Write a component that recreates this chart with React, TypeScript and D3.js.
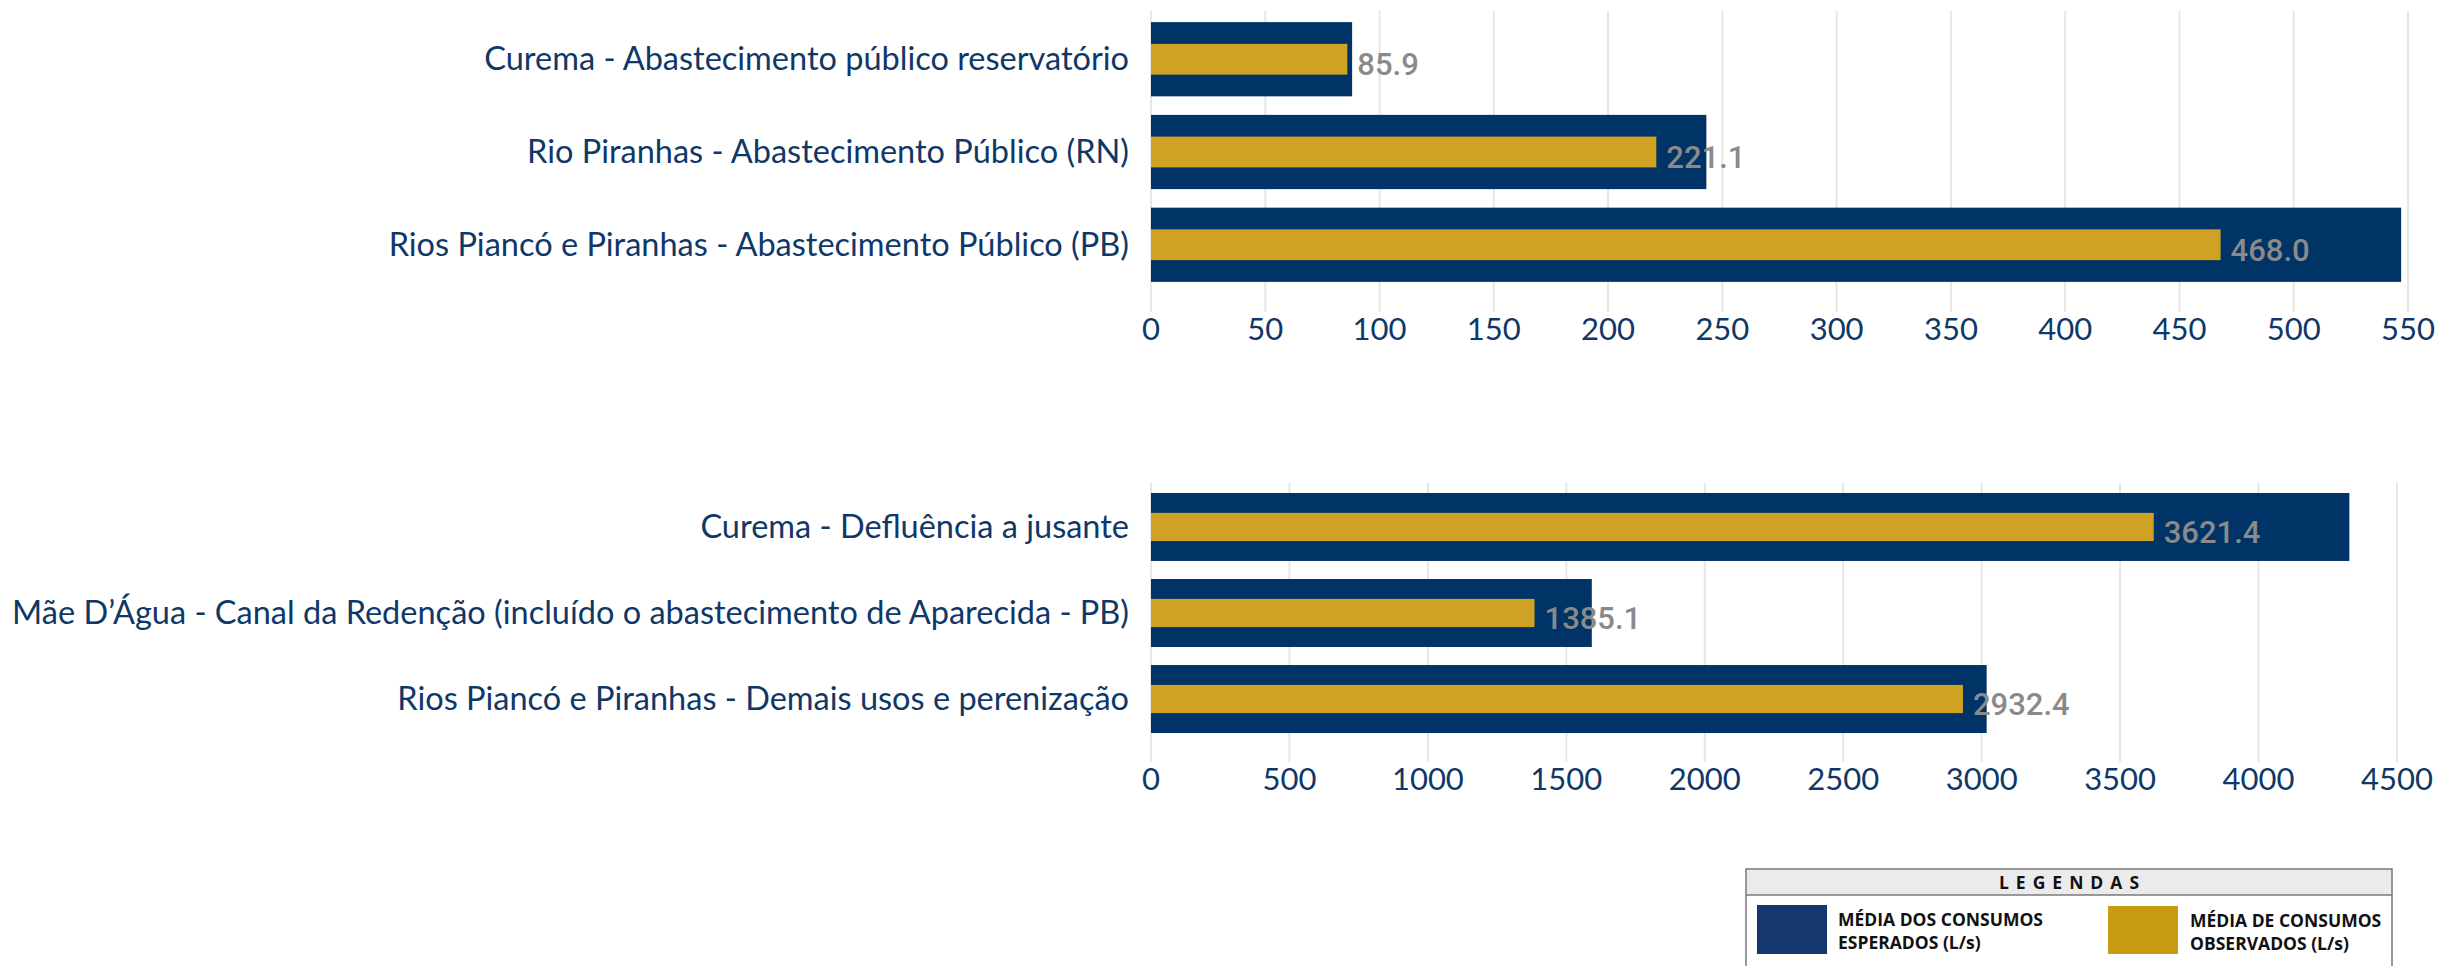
import React from "react";
import * as d3 from "d3";

const topCategories = [
  "Curema - Abastecimento público reservatório",
  "Rio Piranhas - Abastecimento Público (RN)",
  "Rios Piancó e Piranhas - Abastecimento Público (PB)",
];
const topExpected = [88, 243, 547];
const topObserved = [85.9, 221.1, 468.0];
const topTicks = [0, 50, 100, 150, 200, 250, 300, 350, 400, 450, 500, 550];

const bottomCategories = [
  "Curema - Defluência a jusante",
  "Mãe D’Água - Canal da Redenção (incluído o abastecimento de Aparecida - PB)",
  "Rios Piancó e Piranhas - Demais usos e perenização",
];
const bottomExpected = [4328, 1592, 3018];
const bottomObserved = [3621.4, 1385.1, 2932.4];
const bottomTicks = [0, 500, 1000, 1500, 2000, 2500, 3000, 3500, 4000, 4500];

const legendTitle = "LEGENDAS";
const legendExpected = ["MÉDIA DOS CONSUMOS", "ESPERADOS (L/s)"];
const legendObserved = ["MÉDIA DE CONSUMOS", "OBSERVADOS (L/s)"];

const NAVY = "#003366";
const GOLD = "#cfa224";
const TEXT_NAVY = "#0f3868";
const LABEL_GRAY = "#8a8a8a";
const GRID = "#e6e6e6";

type PanelProps = {
  categories: string[];
  expected: number[];
  observed: number[];
  ticks: number[];
  xMax: number;
  xRange: [number, number];
  yRange: [number, number];
  gridBottom: number;
  tickBaseline: number;
  paddingInner: number;
  paddingOuter: number;
};

function Panel(p: PanelProps) {
  const x = d3.scaleLinear().domain([0, p.xMax]).range(p.xRange);
  const y = d3
    .scaleBand<string>()
    .domain(p.categories)
    .range(p.yRange)
    .paddingInner(p.paddingInner)
    .paddingOuter(p.paddingOuter);
  const bw = y.bandwidth();
  const goldH = bw * 0.415;
  return (
    <g>
      {p.ticks.map((t) => (
        <line
          key={"g" + t}
          x1={x(t)}
          x2={x(t)}
          y1={p.yRange[0]}
          y2={p.gridBottom}
          stroke={GRID}
          strokeWidth={2}
        />
      ))}
      {p.ticks.map((t) => (
        <text
          key={"t" + t}
          x={x(t)}
          y={p.tickBaseline}
          textAnchor="middle"
          fontFamily="Lato"
          fontSize={31}
          fill={TEXT_NAVY}
        >
          {t}
        </text>
      ))}
      {p.categories.map((c, i) => {
        const y0 = y(c) as number;
        const cy = y0 + bw / 2;
        return (
          <g key={c}>
            <rect x={x(0)} y={y0} width={x(p.expected[i]) - x(0)} height={bw} fill={NAVY} />
            <rect
              x={x(0)}
              y={cy - goldH / 2}
              width={x(p.observed[i]) - x(0)}
              height={goldH}
              fill={GOLD}
            />
            <text
              x={x(p.observed[i]) + 10}
              y={cy + 16}
              fontFamily="Roboto"
              fontWeight={500}
              fontSize={31}
              fill={LABEL_GRAY}
            >
              {p.observed[i].toFixed(1)}
            </text>
            <text
              x={x(0) - 22}
              y={cy + 11}
              textAnchor="end"
              fontFamily="Lato"
              fontSize={32.5}
              fill={TEXT_NAVY}
            >
              {c}
            </text>
          </g>
        );
      })}
    </g>
  );
}

function Legend() {
  const left = 1746;
  const right = 2392;
  const top = 869;
  return (
    <g>
      <rect x={left} y={top} width={right - left} height={26} fill="#ebebeb" />
      <rect
        x={left}
        y={top}
        width={right - left}
        height={140}
        fill="none"
        stroke="#7a7a7a"
        strokeWidth={1.5}
      />
      <line x1={left} x2={right} y1={top + 26} y2={top + 26} stroke="#7a7a7a" strokeWidth={1.5} />
      <text
        x={(left + right) / 2 + 3.5}
        y={889}
        textAnchor="middle"
        fontFamily="Open Sans"
        fontWeight={700}
        fontSize={17.5}
        letterSpacing={7}
        fill="#111"
      >
        {legendTitle}
      </text>
      <rect x={1757} y={905} width={70} height={49} fill="#15366f" />
      <rect x={2108} y={906} width={70} height={48} fill="#c99b15" />
      {legendExpected.map((s, i) => (
        <text
          key={s}
          x={1838}
          y={926 + i * 22.5}
          fontFamily="Open Sans"
          fontWeight={700}
          fontSize={17.5}
          fill="#111"
        >
          {s}
        </text>
      ))}
      {legendObserved.map((s, i) => (
        <text
          key={s}
          x={2190}
          y={927 + i * 22.5}
          fontFamily="Open Sans"
          fontWeight={700}
          fontSize={17.5}
          fill="#111"
        >
          {s}
        </text>
      ))}
    </g>
  );
}

export default function App() {
  return (
    <svg
      width={2440}
      height={966}
      style={{ position: "absolute", left: 0, top: 0, display: "block", background: "#fff" }}
    >
      <Panel
        categories={topCategories}
        expected={topExpected}
        observed={topObserved}
        ticks={topTicks}
        xMax={550}
        xRange={[1151, 2408]}
        yRange={[11, 293]}
        gridBottom={312}
        tickBaseline={340}
        paddingInner={0.2}
        paddingOuter={0.12}
      />
      <Panel
        categories={bottomCategories}
        expected={bottomExpected}
        observed={bottomObserved}
        ticks={bottomTicks}
        xMax={4500}
        xRange={[1151, 2397]}
        yRange={[483, 743]}
        gridBottom={762}
        tickBaseline={790}
        paddingInner={0.21}
        paddingOuter={0.116}
      />
      <Legend />
    </svg>
  );
}
